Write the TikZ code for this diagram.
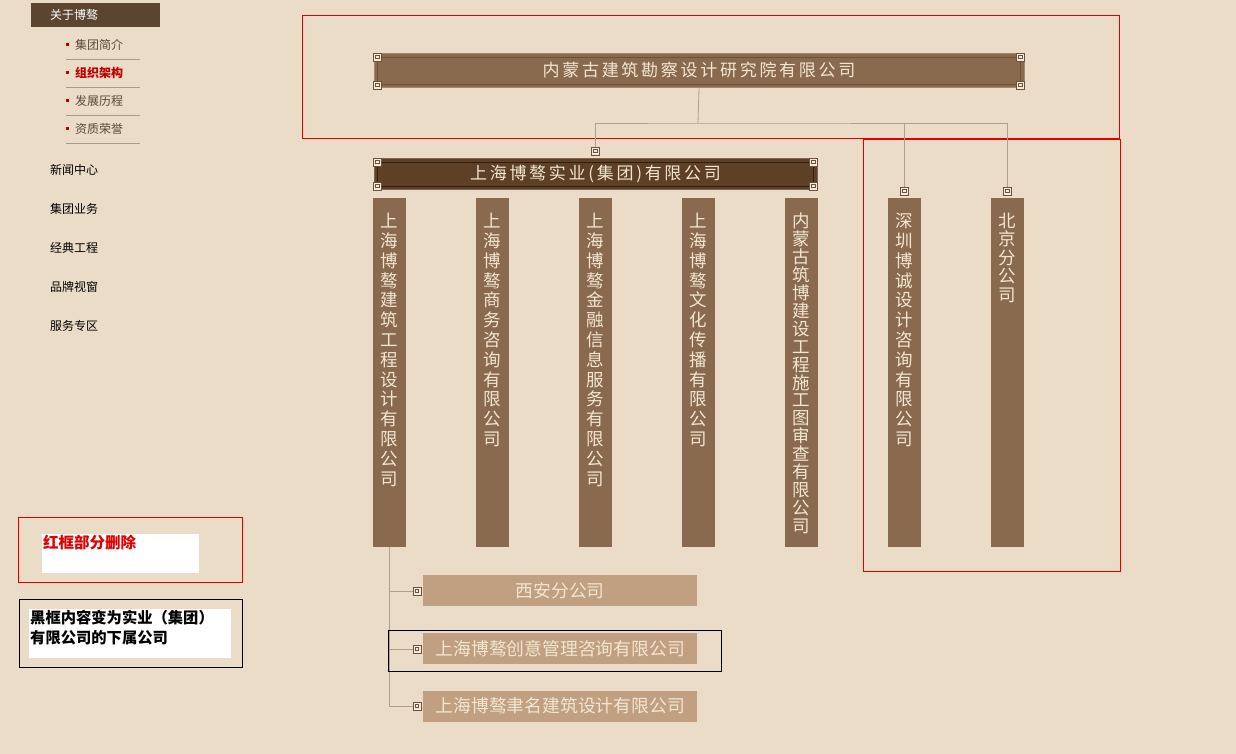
\documentclass[tikz,border=0pt]{standalone}
\usepackage{fontspec}
\setmainfont{Noto Sans CJK SC}
\newfontfamily\widecjk[LetterSpace=16]{Noto Sans CJK SC}
\usetikzlibrary{positioning}
\XeTeXlinebreaklocale "zh"
\XeTeXlinebreakskip=0pt plus 1pt
\definecolor{paper}{HTML}{EADCC6}
\definecolor{menubrown}{HTML}{5C4530}
\definecolor{boxbrown}{HTML}{8A6A4F}
\definecolor{darkbrown}{HTML}{5E4026}
\definecolor{tanbox}{HTML}{C0A080}
\definecolor{creamtext}{HTML}{F2E6D2}
\definecolor{linkgray}{HTML}{ADA090}
\definecolor{knotbrown}{HTML}{6E5238}
\definecolor{subtext}{HTML}{5A4A3A}
\definecolor{notered}{HTML}{E00000}

\tikzset{
  knot/.style={draw=knotbrown, fill=paper!60!white, line width=0.9pt, minimum size=8pt, inner sep=0pt,
    path picture={\draw[knotbrown, line width=0.9pt] ([shift={(-1.8pt,-1.8pt)}]path picture bounding box.center) rectangle ++(3.6pt,3.6pt);}},
  plaque/.style={fill=#1, draw=#1!80!white, line width=1pt, inner sep=0pt, text=creamtext},
  pillar/.style={fill=boxbrown, minimum width=33pt, minimum height=349pt, anchor=north, inner sep=0pt},
  pillartext/.style={text=creamtext, text width=19pt, align=center, anchor=north, inner sep=0pt},
  branch/.style={fill=tanbox, minimum width=274pt, minimum height=31pt, inner sep=0pt, text=creamtext,
    font=\fontsize{17.8}{20}\selectfont},
  link/.style={draw=linkgray, line width=0.8pt},
  redframe/.style={draw=notered, line width=0.8pt},
  menuitem/.style={anchor=west, inner sep=0pt, font=\fontsize{12}{14}\selectfont},
}

\begin{document}
\begin{tikzpicture}[x=1pt,y=-1pt]
\fill[paper] (0,0) rectangle (1236,754);
\useasboundingbox (0,0) rectangle (1236,754);

\node[fill=menubrown, text=white, anchor=west, minimum height=24pt, inner xsep=19pt, text width=91pt, align=left,
  font=\fontsize{12}{14}\selectfont] (about) at (31,15) {关于博骜};
\foreach \t [count=\i] in {集团简介,组织架构,发展历程,资质荣誉} {
  \node[fill=notered!80!black, minimum size=3pt, inner sep=0pt] (dot\i) at (67.5,17+28*\i) {};
  \ifnum\i=2
    \node[menuitem, text=notered!85!black, font=\bfseries\fontsize{12}{14}\selectfont] (sub\i) at (75,17+28*\i) {\t};
  \else
    \node[menuitem, text=subtext] (sub\i) at (75,17+28*\i) {\t};
  \fi
  \draw[subtext!45!paper, line width=0.8pt] (66,31+28*\i) -- (140,31+28*\i);
}
\foreach \t [count=\i] in {新闻中心,集团业务,经典工程,品牌视窗,服务专区}
  \node[menuitem, text=black] (menu\i) at (50,131+39*\i) {\t};

\draw[redframe] (302,15) rectangle (1119,138);
\draw[redframe] (863,139) rectangle (1120,571);

\node[plaque=boxbrown, minimum width=650pt, minimum height=34pt, font=\widecjk\fontsize{17}{20}\selectfont] (inst) at (699,70.5) {内蒙古建筑勘察设计研究院有限公司};
\draw[darkbrown!60!boxbrown, line width=0.6pt] ([shift={(4,4)}]inst.north west) rectangle ([shift={(-4,-4)}]inst.south east);
\foreach \a/\s [count=\i] in {north west/{(4,4)}, north east/{(-4,4)}, south west/{(4,-3)}, south east/{(-4,-3)}}
  \node[knot] (inst-k\i) at ([shift=\s]inst.\a) {};

\node[plaque=darkbrown, minimum width=443pt, minimum height=31pt, font=\widecjk\fontsize{17}{20}\selectfont] (group) at (595.5,174) {上海博骜实业(集团)有限公司};
\draw[black!50!darkbrown, line width=0.6pt] ([shift={(4,4)}]group.north west) rectangle ([shift={(-4,-4)}]group.south east);
\foreach \a/\s [count=\i] in {north west/{(4,4)}, north east/{(-4,4)}, south west/{(4,-4)}, south east/{(-4,-4)}}
  \node[knot] (group-k\i) at ([shift=\s]group.\a) {};

\coordinate (fork) at (698,123);
\node[knot] (gk) at (595.5,151) {};
\node[knot] (sk) at (904.5,191) {};
\node[knot] (bk) at (1007.5,191) {};
\draw[link] (inst.south) -- (fork);
\draw[link] (gk.north) |- (fork) -| (bk.north);
\draw[link] (sk.north) -- (sk.north |- fork);

\foreach \x/\t/\s [count=\i] in {
  389.5/上海博骜建筑工程设计有限公司/19.8,
  492.5/上海博骜商务咨询有限公司/19.8,
  595.5/上海博骜金融信息服务有限公司/19.8,
  698.5/上海博骜文化传播有限公司/19.8,
  801.5/内蒙古筑博建设工程施工图审查有限公司/17.9,
  904.5/深圳博诚设计咨询有限公司/19.8,
  1007.5/北京分公司/18.4} {
  \node[pillar] (col\i) at (\x,198) {};
  \node[pillartext, font=\fontsize{17.5}{\s}\selectfont] (lab\i) at (\x,213) {\t};
}

\node[knot] (xk) at (417,591) {};
\node[knot] (ck) at (417,649) {};
\node[knot] (yk) at (417,706) {};
\node[branch, anchor=west] (xian) at (423,590.5) {西安分公司};
\node[branch, anchor=west] (idea) at (423,648.5) {上海博骜创意管理咨询有限公司};
\node[branch, anchor=west] (yuming) at (423,706) {上海博骜聿名建筑设计有限公司};
\draw[link] (col1.south) |- (yk.west);
\draw[link] (xk.west) -- (xk.west -| col1.south);
\draw[link] (ck.west) -- (ck.west -| col1.south);
\draw[black, line width=0.9pt] (388,630) rectangle (721,671);

\draw[redframe] (18,517) rectangle (242,582);
\fill[white] (42,534) rectangle (199,573);
\node[anchor=north west, inner sep=0pt, text=notered, font=\bfseries\fontsize{15.5}{18}\selectfont] (note1) at (43,535) {红框部分删除};
\draw[black, line width=0.9pt] (19,599) rectangle (242,667);
\fill[white] (29,609) rectangle (231,658);
\node[anchor=north west, inner sep=0pt, align=left, font=\bfseries\fontsize{15.3}{20}\selectfont] (note2) at (30,610) {黑框内容变为实业（集团）\\有限公司的下属公司};
\end{tikzpicture}
\end{document}
